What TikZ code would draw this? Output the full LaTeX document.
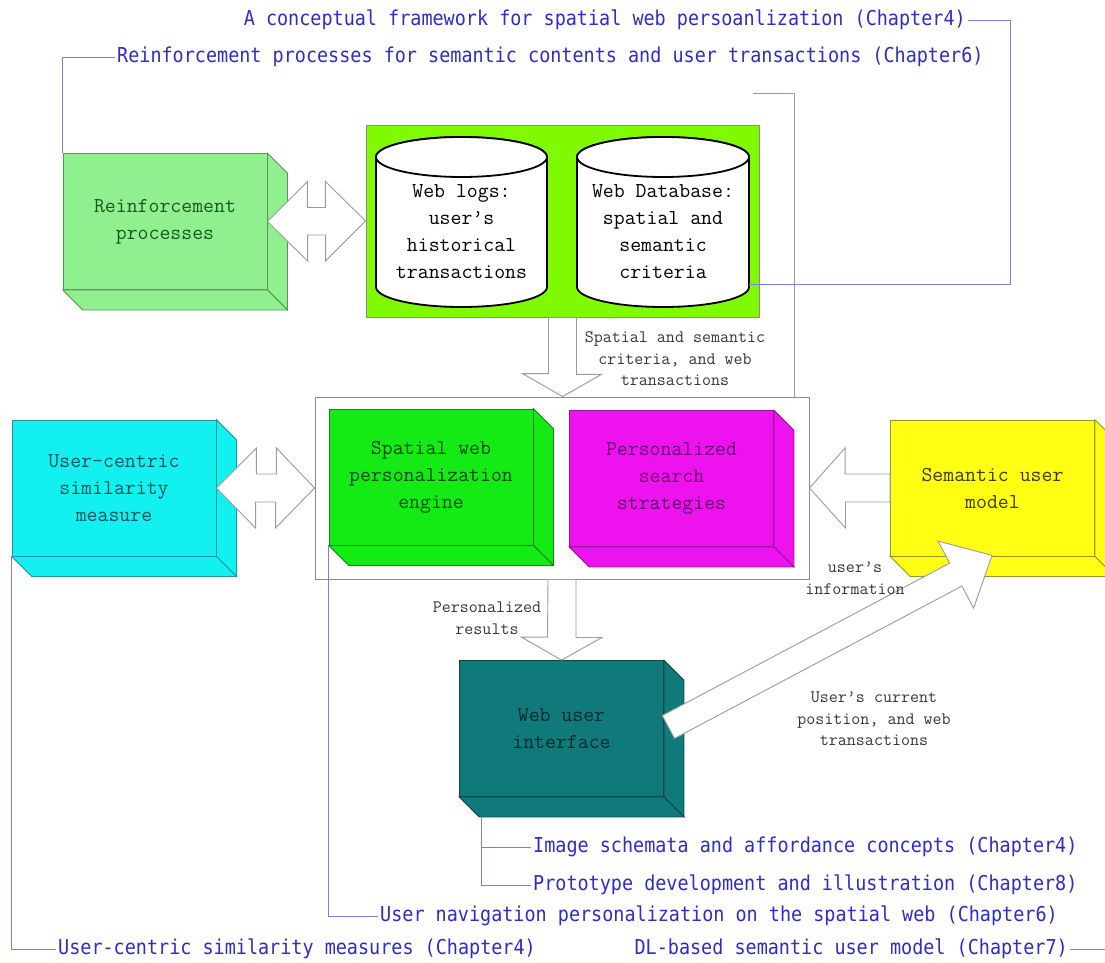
\documentclass[tikz,border=0pt]{standalone}
\usepackage{fontspec}
\usetikzlibrary{calc}
\newfontfamily\notefont[FakeStretch=0.9]{DejaVu Sans Mono}

\definecolor{reinfFill}{RGB}{144,240,144}
\definecolor{reinfEdge}{RGB}{80,150,80}
\definecolor{reinfText}{RGB}{20,90,30}
\definecolor{cyanFill}{RGB}{18,240,240}
\definecolor{cyanEdge}{RGB}{30,150,160}
\definecolor{cyanText}{RGB}{10,85,90}
\definecolor{engFill}{RGB}{20,235,20}
\definecolor{engEdge}{RGB}{20,130,20}
\definecolor{engText}{RGB}{10,70,10}
\definecolor{magFill}{RGB}{238,18,238}
\definecolor{magEdge}{RGB}{150,20,150}
\definecolor{magText}{RGB}{100,0,110}
\definecolor{yelFill}{RGB}{255,255,20}
\definecolor{yelEdge}{RGB}{150,150,40}
\definecolor{yelText}{RGB}{60,60,10}
\definecolor{tealFill}{RGB}{16,122,122}
\definecolor{tealEdge}{RGB}{10,70,70}
\definecolor{tealText}{RGB}{10,40,45}
\definecolor{dbFill}{RGB}{128,250,0}
\definecolor{chapBlue}{RGB}{45,45,200}
\definecolor{chapLine}{RGB}{125,125,225}
\definecolor{stubLine}{RGB}{150,150,185}
\definecolor{frameGrey}{RGB}{140,140,140}
\definecolor{arrowGrey}{RGB}{155,155,155}
\definecolor{noteGrey}{RGB}{55,55,55}

\tikzset{
  box3d/.style={rectangle, minimum width=204pt, minimum height=136pt,
    inner sep=0pt, align=center, line width=0.8pt,
    font=\ttfamily\fontsize{21.2}{27}\selectfont},
  cyltext/.style={minimum width=171pt, inner sep=0pt, align=center,
    font=\ttfamily\fontsize{21.2}{27}\selectfont},
  note/.style={align=center, text=noteGrey, inner sep=0pt,
    font=\ttfamily\fontsize{17.5}{21.5}\selectfont},
  chap/.style={text=chapBlue, inner sep=2pt,
    font=\notefont\fontsize{20.5}{24}\selectfont},
  chapline/.style={draw=chapLine, line width=0.9pt},
  blockarrow/.style={fill=white, draw=arrowGrey, line width=0.9pt, line join=miter},
  cylshape/.style={fill=white, draw=black, line width=1.8pt}
}

% right and bottom faces of an extruded box: node, fill, edge
\newcommand\depthfaces[3]{%
  \filldraw[fill=#2, draw=#3, line width=0.8pt]
    (#1.north east) -- ++(20,20) -- ($(#1.south east)+(20,20)$) -- (#1.south east) -- cycle;
  \filldraw[fill=#2, draw=#3, line width=0.8pt]
    (#1.south west) -- (#1.south east) -- ++(20,20) -- ($(#1.south west)+(20,20)$) -- cycle;
}
% database cylinder: left x, right x, half width
\newcommand\dbcylinder[3]{%
  \filldraw[cylshape] (#1,157) -- (#1,287)
    arc[start angle=180, end angle=360, x radius=#3pt, y radius=20pt]
    -- (#2,157)
    arc[start angle=0, end angle=180, x radius=#3pt, y radius=20pt] -- cycle;
  \draw[cylshape] ($(#1,157)+(#3,0)$) ellipse[x radius=#3pt, y radius=20pt];
}

\begin{document}
\begin{tikzpicture}[x=1pt, y=-1pt]
\useasboundingbox (0,0) rectangle (1105,963);
\fill[white] (0,0) rectangle (1105,963);

% data sources
\node[draw=frameGrey, fill=dbFill, line width=0.8pt, minimum width=393pt,
      minimum height=192pt, inner sep=0pt] (db) at (562.5,221) {};
\dbcylinder{376}{547}{85.5}
\dbcylinder{577}{749}{86}
\node[cyltext] (cylA) at (461.5,232) {Web logs:\\user’s\\historical\\transactions};
\node[cyltext] (cylB) at (663,232) {Web Database:\\spatial and\\semantic\\criteria};

% engine frame
\node[draw=frameGrey, fill=white, line width=0.9pt, minimum width=494pt,
      minimum height=182pt, inner sep=0pt] (frame) at (562,488) {};

% extruded boxes
\node[box3d, fill=reinfFill, draw=reinfEdge, text=reinfText] (reinf) at (165,221.5)
  {Reinforcement\\processes};
\depthfaces{reinf}{reinfFill}{reinfEdge}

\node[box3d, fill=cyanFill, draw=cyanEdge, text=cyanText] (cyan) at (114,488)
  {User-centric\\similarity\\measure};
\depthfaces{cyan}{cyanFill}{cyanEdge}

\node[box3d, fill=engFill, draw=engEdge, text=engText] (engine) at (431,477)
  {Spatial web\\personalization\\engine};
\depthfaces{engine}{engFill}{engEdge}

\node[box3d, fill=magFill, draw=magEdge, text=magText] (search) at (671.5,478.5)
  {Personalized\\search\\strategies};
\depthfaces{search}{magFill}{magEdge}

\node[box3d, fill=yelFill, draw=yelEdge, text=yelText] (model) at (992.5,488)
  {Semantic user\\model};
\depthfaces{model}{yelFill}{yelEdge}

\node[box3d, fill=tealFill, draw=tealEdge, text=tealText] (webui) at (561.5,728.5)
  {Web user\\interface};
\depthfaces{webui}{tealFill}{tealEdge}

% two-way block arrows
\draw[blockarrow] (reinf.east) -- ++(40,-40) -- ++(0,26) -- ++(18,0) -- ++(0,-26)
  -- (db.west) -- ++(-40,40) -- ++(0,-26) -- ++(-18,0) -- ++(0,26) -- cycle;
\draw[blockarrow] (cyan.east) -- ++(40,-40) -- ++(0,26) -- ++(20,0) -- ++(0,-26)
  -- (frame.west) -- ++(-39,40) -- ++(0,-26) -- ++(-20,0) -- ++(0,26) -- cycle;

% one-way block arrows
\draw[blockarrow] ($(db.south)+(-14,0)$) -- ++(28,0) -- ++(0,57) -- ++(25,0)
  -- (db.south |- frame.north) -- ++(-40,-23) -- ++(26,0) -- cycle;
\draw[blockarrow] ($(frame.south)+(-14,0)$) -- ++(28,0) -- ++(0,58) -- ++(26,0)
  -- (webui.north) -- ++(-40,-23) -- ++(26,0) -- cycle;
\draw[blockarrow] ($(model.west)+(0,-14)$) -- ++(-45,0) -- ++(0,-26)
  -- (frame.east) -- ++(36,40) -- ++(0,-26) -- ($(model.west)+(0,14)$) -- cycle;

% slanted block arrow from the interface to the user model
\coordinate (dtail) at ($(webui.east)+(4.5,-1.5)$);
\coordinate (dtip) at ($(model.south)+(-0.5,-1)$);
\coordinate (dbase) at ($(dtip)!41pt!(dtail)$);
\draw[blockarrow] ($(dtail)!13pt!90:(dtip)$) -- ($(dbase)!13pt!-90:(dtail)$)
  -- ($(dbase)!38pt!-90:(dtail)$) -- (dtip) -- ($(dbase)!38pt!90:(dtail)$)
  -- ($(dbase)!13pt!90:(dtail)$) -- ($(dtail)!13pt!-90:(dtip)$) -- cycle;

% flow notes
\node[note] (n1) at (675,359) {Spatial and semantic\\criteria, and web\\transactions};
\node[note] (n2) at (487,618) {Personalized\\results};
\node[note] (n3) at (855,578) {user’s\\information};
\node[note] (n4) at (874,719) {User’s current\\position, and web\\transactions};

% chapter references
\node[chap, anchor=east] (chA) at (968,20)
  {A conceptual framework for spatial web persoanlization (Chapter4)};
\node[chap, anchor=west] (chR) at (115,57)
  {Reinforcement processes for semantic contents and user transactions (Chapter6)};
\node[chap, anchor=west] (chI) at (531,847)
  {Image schemata and affordance concepts (Chapter4)};
\node[chap, anchor=west] (chP) at (531,885)
  {Prototype development and illustration (Chapter8)};
\node[chap, anchor=west] (chN) at (378,916)
  {User navigation personalization on the spatial web (Chapter6)};
\node[chap, anchor=west] (chU) at (56,949)
  {User-centric similarity measures (Chapter4)};
\node[chap, anchor=east] (chD) at (1070,949)
  {DL-based semantic user model (Chapter7)};

\coordinate (uibase) at ($(webui.south west)+(22,20)$);
\coordinate (dlend) at (1105,949);
\coordinate (stubL) at (753,93);
\coordinate (stubB) at (794,397);

\draw[chapline] (chA.east) -- ++(42,0) |- (cylB.east |- 0,284);
\draw[chapline] (chR.west) -| (reinf.north west);
\draw[chapline] (chI.west) -| (uibase);
\draw[chapline] (chP.west) -| (uibase);
\draw[chapline] (chN.west) -| (engine.south west);
\draw[chapline] (chU.west) -| (cyan.south west);
\draw[chapline] (chD.east) -- (dlend);
\draw[draw=stubLine, line width=0.9pt] (stubL) -| (stubB);

\end{tikzpicture}
\end{document}
